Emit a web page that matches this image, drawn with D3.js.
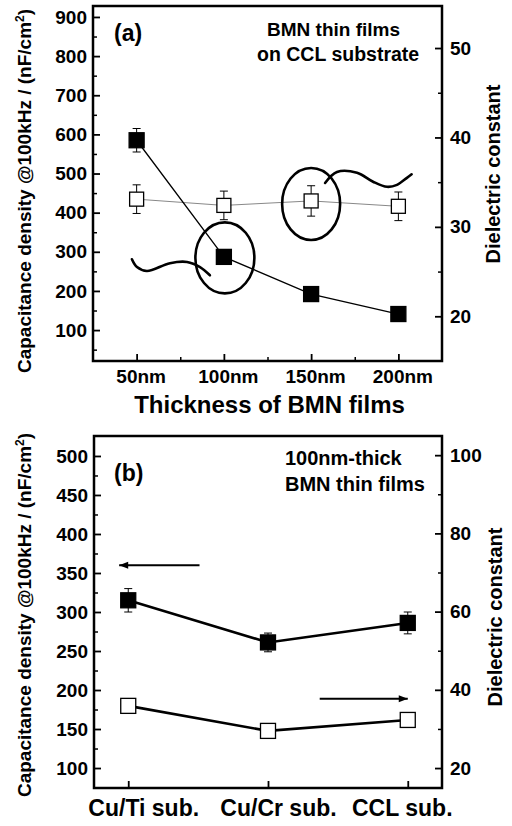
<!DOCTYPE html>
<html><head><meta charset="utf-8">
<script src="https://cdn.jsdelivr.net/npm/d3@7/dist/d3.min.js"></script>
<style>
body{margin:0;background:#fff;}
svg{display:block;font-family:"Liberation Sans",Arial,sans-serif;font-weight:bold;}
</style></head>
<body><svg id="c" width="512" height="826"></svg>
<script>
// ---------- Data: panel (a) ----------
const aThickness = [50, 100, 150, 200];
const aThicknessLabels = ["50nm", "100nm", "150nm", "200nm"];
const aCap = [585, 287, 192, 141];
const aCapErr = [30, 8, 6, 5];
const aDiel = [33.1, 32.4, 32.9, 32.3];
const aDielErr = [1.6, 1.6, 1.7, 1.6];
const aCapTicks = [100, 200, 300, 400, 500, 600, 700, 800, 900];
const aDielTicks = [20, 30, 40, 50];
// annotation swirls (thickness nm, capacitance units)
const swirlLeft = [[47.3,281],[50.2,261],[55.9,251],[69.1,271],[78.9,274],[86.3,261],[92,240]];
const swirlRight = [[158,476],[164.8,504],[176.3,502],[185.5,479],[193.5,466],[199.2,471],[204.9,489],[207.6,498]];

// ---------- Data: panel (b) ----------
const bSubstrates = ["Cu/Ti sub.", "Cu/Cr sub.", "CCL sub."];
const bCap = [315, 261, 286];
const bCapErr = [15, 12, 14];
const bDiel = [35.9, 29.5, 32.3];
const bDielErr = [1.0, 1.7, 1.0];
const bCapTicks = [100, 150, 200, 250, 300, 350, 400, 450, 500];
const bDielTicks = [20, 40, 60, 80, 100];

const svg = d3.select("#c");

function styleAxis(g, size) {
  g.select(".domain").remove();
  g.selectAll(".tick line").attr("stroke", "#000").attr("stroke-width", 1.8);
  g.selectAll(".tick text").attr("fill", "#000").style("font-size", size + "px").style("font-weight", "bold");
}
function minorAxis(g, axis) {
  g.call(axis);
  g.select(".domain").remove();
  g.selectAll(".tick line").attr("stroke", "#000").attr("stroke-width", 1.5);
}
function drawSquares(g, data, fill, size) {
  g.selectAll(null).data(data).enter().append("rect")
    .attr("x", d => d[0] - size / 2).attr("y", d => d[1] - size / 2)
    .attr("width", size).attr("height", size)
    .attr("fill", fill).attr("stroke", "#000").attr("stroke-width", 1.3);
}
function drawErr(g, pts, cap) {
  pts.forEach(p => {
    g.append("line").attr("x1", p.x).attr("x2", p.x).attr("y1", p.y0).attr("y2", p.y1)
      .attr("stroke", "#000").attr("stroke-width", 1);
    [p.y0, p.y1].forEach(y => g.append("line").attr("x1", p.x - cap).attr("x2", p.x + cap)
      .attr("y1", y).attr("y2", y).attr("stroke", "#000").attr("stroke-width", 1));
  });
}

// ================= Panel (a) =================
(function () {
  const L = 93, R = 442, T = 6, B = 361;
  const x = d3.scaleLinear().domain([25, 225]).range([L, R]);
  const yL = d3.scaleLinear().domain([21, 928]).range([B, T]);
  const yR = d3.scaleLinear().domain([15, 54.7]).range([B, T]);
  const g = svg.append("g");

  g.append("g").attr("transform", `translate(${L},0)`)
    .call(d3.axisLeft(yL).tickValues(aCapTicks).tickSizeInner(-7).tickSizeOuter(0).tickPadding(6))
    .call(a => styleAxis(a, 19));
  g.append("g").attr("transform", `translate(${L},0)`)
    .call(a => minorAxis(a, d3.axisLeft(yL).tickValues(d3.range(50, 900, 100)).tickSize(-4).tickFormat("")));
  g.append("g").attr("transform", `translate(${R},0)`)
    .call(d3.axisRight(yR).tickValues(aDielTicks).tickSizeInner(-7).tickSizeOuter(0).tickPadding(8))
    .call(a => styleAxis(a, 19));
  g.append("g").attr("transform", `translate(${R},0)`)
    .call(a => minorAxis(a, d3.axisRight(yR).tickValues([25, 35, 45]).tickSize(-4).tickFormat("")));
  g.append("g").attr("transform", `translate(0,${B})`)
    .call(d3.axisBottom(x).tickValues(aThickness).tickFormat((d, i) => aThicknessLabels[i])
      .tickSizeInner(-7).tickSizeOuter(0).tickPadding(8.5))
    .call(a => styleAxis(a, 19))
    .call(a => a.selectAll(".tick text").attr("dx", 4));
  g.append("g").attr("transform", `translate(0,${B})`)
    .call(a => minorAxis(a, d3.axisBottom(x).tickValues([75, 125, 175]).tickSize(-4).tickFormat("")));
  g.append("rect").attr("x", L).attr("y", T).attr("width", R - L).attr("height", B - T)
    .attr("fill", "none").attr("stroke", "#000").attr("stroke-width", 2.5);

  const openPts = aThickness.map((t, i) => [x(t), yR(aDiel[i])]);
  g.append("path").attr("d", d3.line()(openPts)).attr("fill", "none")
    .attr("stroke", "#888").attr("stroke-width", 1);
  drawErr(g, aThickness.map((t, i) => ({x: x(t), y0: yR(aDiel[i] + aDielErr[i]), y1: yR(aDiel[i] - aDielErr[i])})), 4);
  drawSquares(g, openPts, "#fff", 14);

  const fillPts = aThickness.map((t, i) => [x(t), yL(aCap[i])]);
  g.append("path").attr("d", d3.line()(fillPts)).attr("fill", "none")
    .attr("stroke", "#000").attr("stroke-width", 1.3);
  drawErr(g, aThickness.map((t, i) => ({x: x(t), y0: yL(aCap[i] + aCapErr[i]), y1: yL(aCap[i] - aCapErr[i])})), 4);
  drawSquares(g, fillPts, "#000", 15);

  g.append("ellipse").attr("cx", x(aThickness[1]) + 1).attr("cy", yL(aCap[1]) + 1)
    .attr("rx", 29.5).attr("ry", 35.5).attr("fill", "none").attr("stroke", "#000").attr("stroke-width", 2.6);
  g.append("ellipse").attr("cx", x(aThickness[2])).attr("cy", yR(aDiel[2]) + 3)
    .attr("rx", 29).attr("ry", 36).attr("fill", "none").attr("stroke", "#000").attr("stroke-width", 2.6);
  const sl = d3.line().x(d => x(d[0])).y(d => yL(d[1])).curve(d3.curveCatmullRom);
  [swirlLeft, swirlRight].forEach(s => g.append("path").attr("d", sl(s)).attr("fill", "none")
    .attr("stroke", "#000").attr("stroke-width", 2.6).attr("stroke-linecap", "round"));

  g.append("text").attr("x", 114).attr("y", 41).style("font-size", "23px").text("(a)");
  g.append("text").attr("x", 267).attr("y", 36).style("font-size", "19px").text("BMN thin films");
  g.append("text").attr("x", 257).attr("y", 61).style("font-size", "19.5px").text("on CCL substrate");
  g.append("text").attr("x", (L + R) / 2 + 2).attr("y", 413).attr("text-anchor", "middle")
    .style("font-size", "24px").text("Thickness of BMN films");
  const yl = g.append("text").attr("transform", "translate(31,191) rotate(-90)").attr("text-anchor", "middle")
    .style("font-size", "19px");
  yl.append("tspan").text("Capacitance density @100kHz / (nF/cm");
  yl.append("tspan").attr("dy", -7).style("font-size", "12px").text("2");
  yl.append("tspan").attr("dy", 7).text(")");
  g.append("text").attr("transform", "translate(500,174) rotate(-90)").attr("text-anchor", "middle")
    .style("font-size", "20px").text("Dielectric constant");
})();

// ================= Panel (b) =================
(function () {
  const L = 94, R = 442, T = 436, B = 788;
  const x = d3.scalePoint().domain(bSubstrates).range([L, R]).padding(0.245);
  const xi = d3.scaleLinear().domain([0, bSubstrates.length - 1]).range([x(bSubstrates[0]), x(bSubstrates[bSubstrates.length - 1])]);
  const yL = d3.scaleLinear().domain([74.4, 525.6]).range([B, T]);
  const yR = d3.scaleLinear().domain([14.9, 104.9]).range([B, T]);
  const g = svg.append("g");
  const labelShift = [15, 10, -6];

  g.append("g").attr("transform", `translate(${L},0)`)
    .call(d3.axisLeft(yL).tickValues(bCapTicks).tickSizeInner(-7).tickSizeOuter(0).tickPadding(6))
    .call(a => styleAxis(a, 19));
  g.append("g").attr("transform", `translate(${L},0)`)
    .call(a => minorAxis(a, d3.axisLeft(yL).tickValues(d3.range(125, 500, 50)).tickSize(-4).tickFormat("")));
  g.append("g").attr("transform", `translate(${R},0)`)
    .call(d3.axisRight(yR).tickValues(bDielTicks).tickSizeInner(-7).tickSizeOuter(0).tickPadding(8))
    .call(a => styleAxis(a, 19));
  g.append("g").attr("transform", `translate(${R},0)`)
    .call(a => minorAxis(a, d3.axisRight(yR).tickValues([30, 50, 70, 90]).tickSize(-4).tickFormat("")));
  g.append("g").attr("transform", `translate(0,${B})`)
    .call(d3.axisBottom(x).tickSizeInner(-7).tickSizeOuter(0).tickPadding(11.5))
    .call(a => styleAxis(a, 23))
    .call(a => a.selectAll(".tick text").attr("dx", (d, i) => labelShift[i]));
  g.append("rect").attr("x", L).attr("y", T).attr("width", R - L).attr("height", B - T)
    .attr("fill", "none").attr("stroke", "#000").attr("stroke-width", 2.5);

  const fillPts = bSubstrates.map((s, i) => [x(s), yL(bCap[i])]);
  const openPts = bSubstrates.map((s, i) => [x(s), yR(bDiel[i])]);
  [fillPts, openPts].forEach(p => g.append("path").attr("d", d3.line()(p)).attr("fill", "none")
    .attr("stroke", "#000").attr("stroke-width", 2.6));
  drawErr(g, bSubstrates.map((s, i) => ({x: x(s), y0: yL(bCap[i] + bCapErr[i]), y1: yL(bCap[i] - bCapErr[i])})), 4);
  drawErr(g, bSubstrates.map((s, i) => ({x: x(s), y0: yR(bDiel[i] + bDielErr[i]), y1: yR(bDiel[i] - bDielErr[i])})), 4);
  drawSquares(g, fillPts, "#000", 15);
  drawSquares(g, openPts, "#fff", 15);

  function arrow(x1, x2, y) {
    g.append("line").attr("x1", x1).attr("x2", x2).attr("y1", y).attr("y2", y)
      .attr("stroke", "#000").attr("stroke-width", 2);
    const dir = x2 > x1 ? 1 : -1;
    g.append("path").attr("d", `M${x2},${y} L${x2 - dir * 9},${y - 3.5} L${x2 - dir * 9},${y + 3.5} Z`)
      .attr("fill", "#000");
  }
  arrow(xi(0.51), xi(-0.065), yL(360));
  arrow(xi(1.37), xi(2.0), yR(37.7));

  g.append("text").attr("x", 114).attr("y", 481).style("font-size", "23px").text("(b)");
  g.append("text").attr("x", 285).attr("y", 465).style("font-size", "20px").text("100nm-thick");
  g.append("text").attr("x", 285).attr("y", 491).style("font-size", "20px").text("BMN thin films");
  const yl = g.append("text").attr("transform", "translate(31,615) rotate(-90)").attr("text-anchor", "middle")
    .style("font-size", "19px");
  yl.append("tspan").text("Capacitance density @100kHz / (nF/cm");
  yl.append("tspan").attr("dy", -7).style("font-size", "12px").text("2");
  yl.append("tspan").attr("dy", 7).text(")");
  g.append("text").attr("transform", "translate(502,617) rotate(-90)").attr("text-anchor", "middle")
    .style("font-size", "20px").text("Dielectric constant");
})();
</script></body></html>
